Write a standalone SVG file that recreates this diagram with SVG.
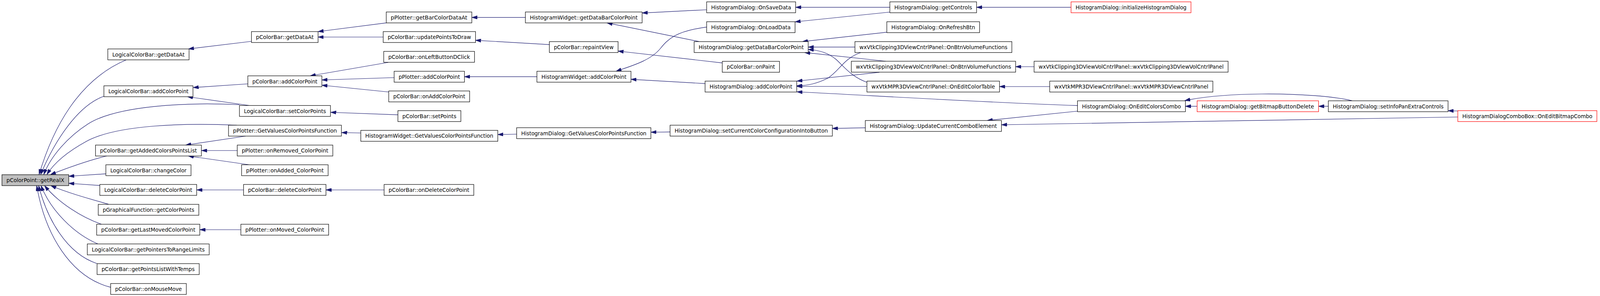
<svg xmlns="http://www.w3.org/2000/svg" width="4269" height="759" viewBox="0 0 4269 759">
<style>
.n rect{fill:#ffffff;stroke:#000000;stroke-width:1.2}
.n.root rect{fill:#bfbfbf}
.n.red rect{stroke:#ff0000}
.n text{font-family:"DejaVu Sans Condensed","DejaVu Sans",sans-serif;font-stretch:condensed;font-size:14.5px;fill:#000000;text-anchor:middle}
#edges path{fill:none;stroke:#191970;stroke-width:1.2;marker-end:url(#arr)}
</style>
<defs>
<marker id="arr" markerUnits="userSpaceOnUse" markerWidth="14" markerHeight="9" viewBox="0 0 14 9" refX="14" refY="4.5" orient="auto">
<path d="M0,0 L14,4.5 L0,9 z" fill="#191970" stroke="#191970" stroke-width="0.8"/>
</marker>
</defs>
<rect x="0" y="0" width="4269" height="759" fill="#ffffff"/>
<g id="edges">
<path d="M323.7,153.3 C200,205 135,330 100,447.7"/>
<path d="M266.3,246.7 C200,270 140,360 104,447.7"/>
<path d="M613,268.5 C480,262 300,270 225,318 C175,350 130,400 112,447.7"/>
<path d="M606,321 C470,315 300,320 222,362 C180,385 140,415 120,447.7"/>
<path d="M273.2,400 C240,408 200,420 129,447.7"/>
<path d="M271.3,445.7 L175.8,452"/>
<path d="M255.3,475.7 L175.8,470"/>
<path d="M277.8,523.7 C230,510 175,495 130,476"/>
<path d="M259.4,574.7 C210,558 150,520 114,476"/>
<path d="M250.2,625.3 C190,600 130,540 105,476"/>
<path d="M248,675.7 C170,650 120,560 99,476"/>
<path d="M283.3,736.7 C180,710 115,600 94,476"/>
<path d="M643.7,106 L482.5,125.5"/>
<path d="M634.5,215 L494.5,224.5"/>
<path d="M638.2,270.5 L480,248"/>
<path d="M629,349 L475.2,372"/>
<path d="M607.4,386 L516,386"/>
<path d="M638.2,422.5 L482,400"/>
<path d="M623.5,487 L503.7,487"/>
<path d="M616.6,589 L511.5,589"/>
<path d="M989.3,58.7 L814.3,81"/>
<path d="M981,95 L814.3,95"/>
<path d="M993.8,160 L794,194.5"/>
<path d="M1009,199 L824,205"/>
<path d="M996,236 L824,218.5"/>
<path d="M1018.6,294.3 L846.5,288"/>
<path d="M923.6,341 L874.5,340"/>
<path d="M983.3,487 L834.5,487"/>
<path d="M1345,44.7 L1207.8,44.7"/>
<path d="M1406.4,114.3 L1217.4,103.3"/>
<path d="M1374.5,196.7 L1189,196.7"/>
<path d="M1322.6,344 L1274.4,345"/>
<path d="M1809,25 L1643.8,33.3"/>
<path d="M1790.3,106.7 L1553.8,58.7"/>
<path d="M1809,69.3 C1730,80 1710,100 1690,125 C1665,155 1620,168 1577,182.7"/>
<path d="M1849,161.3 L1582.3,131"/>
<path d="M1805,214.3 L1615.3,203.3"/>
<path d="M1715.4,338.3 L1666.3,339"/>
<path d="M2278,18.7 L2036.8,18.7"/>
<path d="M2278,31 L2035.4,56"/>
<path d="M2270.3,82.7 L2054,106.7"/>
<path d="M2188.6,120.7 L2069,120.7"/>
<path d="M2267.6,157 L2060,134.7"/>
<path d="M2222,212 C2180,198 2160,170 2140,152 C2120,136 2100,129 2069,127"/>
<path d="M2203.3,134.7 C2160,150 2150,180 2120,200 C2090,215 2070,219 2039.6,220"/>
<path d="M2251.5,185.3 L2040,208"/>
<path d="M2219.4,221.5 L2039.6,221.5"/>
<path d="M2758.4,270.7 C2500,262 2200,243 2040,235.5"/>
<path d="M2647.3,171 L2600,171"/>
<path d="M2687.3,222 L2558.7,222"/>
<path d="M2741.9,18.7 L2500,18.7"/>
<path d="M2758.4,285 L2527,309"/>
<path d="M3732,300 L2563.7,320"/>
<path d="M2215.2,327.7 L2130.8,329.3"/>
<path d="M3064.6,272.5 L3034.6,272.5"/>
<path d="M3400.5,272.5 L3375.5,272.5"/>
<path d="M3461.3,258.3 C3420,248 3330,240 3230,241 C3140,242 3075,249 3033,258"/>
<path d="M3732,284.5 L3707,284"/>
</g>
<g id="n0" class="n root"><rect x="5" y="448" width="171" height="28"/><text x="90.5" y="467" textLength="148" lengthAdjust="spacingAndGlyphs">pColorPoint::getRealX</text></g>
<g id="n1" class="n"><rect x="276" y="125.5" width="208" height="28"/><text x="380" y="144.5" textLength="185" lengthAdjust="spacingAndGlyphs">LogicalColorBar::getDataAt</text></g>
<g id="n2" class="n"><rect x="266" y="220" width="228" height="28"/><text x="380" y="239" textLength="205" lengthAdjust="spacingAndGlyphs">LogicalColorBar::addColorPoint</text></g>
<g id="n3" class="n"><rect x="613" y="270.5" width="233" height="28"/><text x="729.5" y="289.5" textLength="210" lengthAdjust="spacingAndGlyphs">LogicalColorBar::setColorPoints</text></g>
<g id="n4" class="n"><rect x="585" y="321" width="289" height="28"/><text x="729.5" y="340" textLength="266" lengthAdjust="spacingAndGlyphs">pPlotter::GetValuesColorPointsFunction</text></g>
<g id="n5" class="n"><rect x="244.5" y="372" width="271" height="28"/><text x="380" y="391" textLength="248" lengthAdjust="spacingAndGlyphs">pColorBar::getAddedColorsPointsList</text></g>
<g id="n6" class="n"><rect x="271" y="422.5" width="218" height="28"/><text x="380" y="441.5" textLength="195" lengthAdjust="spacingAndGlyphs">LogicalColorBar::changeColor</text></g>
<g id="n7" class="n"><rect x="255.5" y="473" width="248" height="28"/><text x="379.5" y="492" textLength="225" lengthAdjust="spacingAndGlyphs">LogicalColorBar::deleteColorPoint</text></g>
<g id="n8" class="n"><rect x="251.5" y="524" width="257.5" height="28"/><text x="380.2" y="543" textLength="234.5" lengthAdjust="spacingAndGlyphs">pGraphicalFunction::getColorPoints</text></g>
<g id="n9" class="n"><rect x="247.5" y="575" width="264" height="28"/><text x="379.5" y="594" textLength="241" lengthAdjust="spacingAndGlyphs">pColorBar::getLastMovedColorPoint</text></g>
<g id="n10" class="n"><rect x="223.5" y="625.5" width="312" height="28"/><text x="379.5" y="644.5" textLength="289" lengthAdjust="spacingAndGlyphs">LogicalColorBar::getPointersToRangeLimits</text></g>
<g id="n11" class="n"><rect x="248.5" y="676" width="261.5" height="28"/><text x="379.2" y="695" textLength="238.5" lengthAdjust="spacingAndGlyphs">pColorBar::getPointsListWithTemps</text></g>
<g id="n12" class="n"><rect x="283.3" y="727" width="193.7" height="28"/><text x="380.2" y="746" textLength="170.7" lengthAdjust="spacingAndGlyphs">pColorBar::onMouseMove</text></g>
<g id="n13" class="n"><rect x="643.7" y="81" width="170.6" height="28"/><text x="729" y="100" textLength="147.6" lengthAdjust="spacingAndGlyphs">pColorBar::getDataAt</text></g>
<g id="n14" class="n"><rect x="634.5" y="194.5" width="189.5" height="28"/><text x="729.3" y="213.5" textLength="166.5" lengthAdjust="spacingAndGlyphs">pColorBar::addColorPoint</text></g>
<g id="n15" class="n"><rect x="607.4" y="372" width="244.6" height="28"/><text x="729.7" y="391" textLength="221.6" lengthAdjust="spacingAndGlyphs">pPlotter::onRemoved_ColorPoint</text></g>
<g id="n16" class="n"><rect x="618.5" y="422.5" width="221.5" height="28"/><text x="729.3" y="441.5" textLength="198.5" lengthAdjust="spacingAndGlyphs">pPlotter::onAdded_ColorPoint</text></g>
<g id="n17" class="n"><rect x="623.5" y="473" width="211" height="28"/><text x="729" y="492" textLength="188" lengthAdjust="spacingAndGlyphs">pColorBar::deleteColorPoint</text></g>
<g id="n18" class="n"><rect x="616.6" y="575" width="224.8" height="28"/><text x="729" y="594" textLength="201.8" lengthAdjust="spacingAndGlyphs">pPlotter::onMoved_ColorPoint</text></g>
<g id="n19" class="n"><rect x="988.8" y="30.7" width="219" height="28"/><text x="1098.3" y="49.7" textLength="196" lengthAdjust="spacingAndGlyphs">pPlotter::getBarColorDataAt</text></g>
<g id="n20" class="n"><rect x="981" y="81" width="236.4" height="28"/><text x="1099.2" y="100" textLength="213.4" lengthAdjust="spacingAndGlyphs">pColorBar::updatePointsToDraw</text></g>
<g id="n21" class="n"><rect x="982.4" y="131.7" width="232.3" height="28"/><text x="1098.6" y="150.7" textLength="209.3" lengthAdjust="spacingAndGlyphs">pColorBar::onLeftButtonDClick</text></g>
<g id="n22" class="n"><rect x="1009" y="182.7" width="180" height="28"/><text x="1099" y="201.7" textLength="157" lengthAdjust="spacingAndGlyphs">pPlotter::addColorPoint</text></g>
<g id="n23" class="n"><rect x="995.2" y="233.3" width="207.1" height="28"/><text x="1098.8" y="252.3" textLength="184.1" lengthAdjust="spacingAndGlyphs">pColorBar::onAddColorPoint</text></g>
<g id="n24" class="n"><rect x="1018.6" y="283.7" width="161.2" height="28"/><text x="1099.2" y="302.7" textLength="138.2" lengthAdjust="spacingAndGlyphs">pColorBar::setPoints</text></g>
<g id="n25" class="n"><rect x="923.6" y="334.3" width="350.8" height="28"/><text x="1099" y="353.3" textLength="327.8" lengthAdjust="spacingAndGlyphs">HistogramWidget::GetValuesColorPointsFunction</text></g>
<g id="n26" class="n"><rect x="983.3" y="473" width="229.6" height="28"/><text x="1098.1" y="492" textLength="206.6" lengthAdjust="spacingAndGlyphs">pColorBar::onDeleteColorPoint</text></g>
<g id="n27" class="n"><rect x="1345" y="30.7" width="298.8" height="28"/><text x="1494.4" y="49.7" textLength="275.8" lengthAdjust="spacingAndGlyphs">HistogramWidget::getDataBarColorPoint</text></g>
<g id="n28" class="n"><rect x="1406.4" y="106.7" width="175.9" height="28"/><text x="1494.4" y="125.7" textLength="152.9" lengthAdjust="spacingAndGlyphs">pColorBar::repaintView</text></g>
<g id="n29" class="n"><rect x="1374.5" y="182.7" width="240.8" height="28"/><text x="1494.9" y="201.7" textLength="217.8" lengthAdjust="spacingAndGlyphs">HistogramWidget::addColorPoint</text></g>
<g id="n30" class="n"><rect x="1322.6" y="327.5" width="343.7" height="28"/><text x="1494.5" y="346.5" textLength="320.7" lengthAdjust="spacingAndGlyphs">HistogramDialog::GetValuesColorPointsFunction</text></g>
<g id="n31" class="n"><rect x="1809" y="4.7" width="227.8" height="28"/><text x="1922.9" y="23.7" textLength="204.8" lengthAdjust="spacingAndGlyphs">HistogramDialog::OnSaveData</text></g>
<g id="n32" class="n"><rect x="1809" y="55.7" width="226.4" height="28"/><text x="1922.2" y="74.7" textLength="203.4" lengthAdjust="spacingAndGlyphs">HistogramDialog::OnLoadData</text></g>
<g id="n33" class="n"><rect x="1777" y="106.7" width="292" height="28"/><text x="1923" y="125.7" textLength="269" lengthAdjust="spacingAndGlyphs">HistogramDialog::getDataBarColorPoint</text></g>
<g id="n34" class="n"><rect x="1849" y="157.3" width="146.5" height="28"/><text x="1922.3" y="176.3" textLength="123.5" lengthAdjust="spacingAndGlyphs">pColorBar::onPaint</text></g>
<g id="n35" class="n"><rect x="1805" y="208" width="234.6" height="28"/><text x="1922.3" y="227" textLength="211.6" lengthAdjust="spacingAndGlyphs">HistogramDialog::addColorPoint</text></g>
<g id="n36" class="n"><rect x="1715.4" y="321" width="415.4" height="28"/><text x="1923.1" y="340" textLength="392.4" lengthAdjust="spacingAndGlyphs">HistogramDialog::setCurrentColorConfigurationIntoButton</text></g>
<g id="n37" class="n"><rect x="2278" y="4.7" width="222" height="28"/><text x="2389" y="23.7" textLength="199" lengthAdjust="spacingAndGlyphs">HistogramDialog::getControls</text></g>
<g id="n38" class="n"><rect x="2270.3" y="55.7" width="237.4" height="28"/><text x="2389" y="74.7" textLength="214.4" lengthAdjust="spacingAndGlyphs">HistogramDialog::OnRefreshBtn</text></g>
<g id="n39" class="n"><rect x="2188.6" y="106.7" width="401.8" height="28"/><text x="2389.5" y="125.7" textLength="378.8" lengthAdjust="spacingAndGlyphs">wxVtkClipping3DViewCntrlPanel::OnBtnVolumeFunctions</text></g>
<g id="n40" class="n"><rect x="2179.4" y="157" width="420.6" height="28"/><text x="2389.7" y="176" textLength="397.6" lengthAdjust="spacingAndGlyphs">wxVtkClipping3DViewVolCntrlPanel::OnBtnVolumeFunctions</text></g>
<g id="n41" class="n"><rect x="2219.4" y="208" width="339.3" height="28"/><text x="2389" y="227" textLength="316.3" lengthAdjust="spacingAndGlyphs">wxVtkMPR3DViewCntrlPanel::OnEditColorTable</text></g>
<g id="n42" class="n"><rect x="2215.2" y="309" width="348.5" height="28"/><text x="2389.4" y="328" textLength="325.5" lengthAdjust="spacingAndGlyphs">HistogramDialog::UpdateCurrentComboElement</text></g>
<g id="n43" class="n red"><rect x="2741.9" y="4.7" width="307" height="28"/><text x="2895.4" y="23.7" textLength="284" lengthAdjust="spacingAndGlyphs">HistogramDialog::initializeHistogramDialog</text></g>
<g id="n44" class="n"><rect x="2647.3" y="157" width="496.6" height="28"/><text x="2895.6" y="176" textLength="473.6" lengthAdjust="spacingAndGlyphs">wxVtkClipping3DViewVolCntrlPanel::wxVtkClipping3DViewVolCntrlPanel</text></g>
<g id="n45" class="n"><rect x="2687.3" y="208" width="417.6" height="28"/><text x="2896.1" y="227" textLength="394.6" lengthAdjust="spacingAndGlyphs">wxVtkMPR3DViewCntrlPanel::wxVtkMPR3DViewCntrlPanel</text></g>
<g id="n46" class="n"><rect x="2758.4" y="258.5" width="276.2" height="28"/><text x="2896.5" y="277.5" textLength="253.2" lengthAdjust="spacingAndGlyphs">HistogramDialog::OnEditColorsCombo</text></g>
<g id="n47" class="n red"><rect x="3064.6" y="258.5" width="310.9" height="28"/><text x="3220" y="277.5" textLength="287.9" lengthAdjust="spacingAndGlyphs">HistogramDialog::getBitmapButtonDelete</text></g>
<g id="n48" class="n"><rect x="3400.5" y="258.5" width="306.5" height="28"/><text x="3553.7" y="277.5" textLength="283.5" lengthAdjust="spacingAndGlyphs">HistogramDialog::setInfoPanExtraControls</text></g>
<g id="n49" class="n red"><rect x="3732" y="283.7" width="356" height="28"/><text x="3910" y="302.7" textLength="333" lengthAdjust="spacingAndGlyphs">HistogramDialogComboBox::OnEditBitmapCombo</text></g>
</svg>
